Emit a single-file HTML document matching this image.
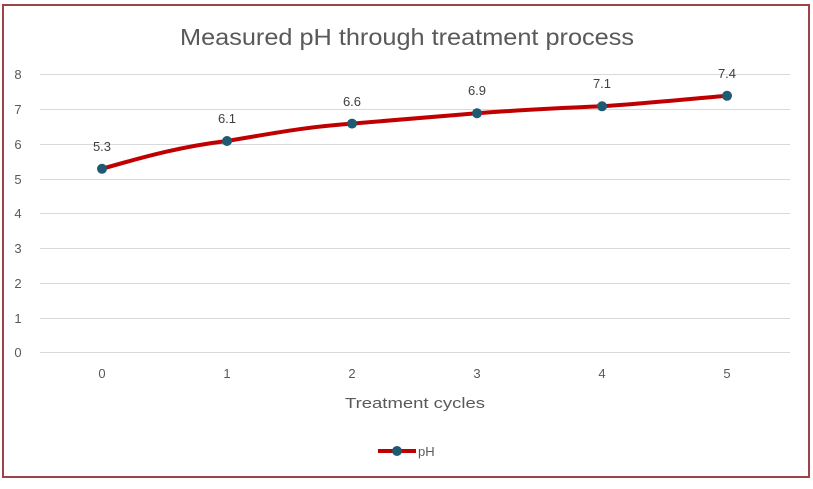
<!DOCTYPE html>
<html><head><style>
html,body{margin:0;padding:0;background:#fff;}
svg{display:block;font-family:"Liberation Sans",sans-serif;}
</style></head><body>
<svg width="813" height="489" viewBox="0 0 813 489">
<rect x="3" y="5" width="806" height="472" fill="#fff" stroke="#9e4448" stroke-width="2"/>
<text x="180" y="45" textLength="454" lengthAdjust="spacingAndGlyphs" font-size="23" fill="#595959">Measured pH through treatment process</text>
<g stroke="#d9d9d9" stroke-width="1">
<line x1="40" x2="790" y1="74.5" y2="74.5"/>
<line x1="40" x2="790" y1="109.5" y2="109.5"/>
<line x1="40" x2="790" y1="144.5" y2="144.5"/>
<line x1="40" x2="790" y1="179.5" y2="179.5"/>
<line x1="40" x2="790" y1="213.5" y2="213.5"/>
<line x1="40" x2="790" y1="248.5" y2="248.5"/>
<line x1="40" x2="790" y1="283.5" y2="283.5"/>
<line x1="40" x2="790" y1="318.5" y2="318.5"/>
<line x1="40" x2="790" y1="352.5" y2="352.5"/>
</g>
<g font-size="13" fill="#595959" text-anchor="middle">
<text x="18" y="79">8</text><text x="18" y="114">7</text><text x="18" y="149">6</text>
<text x="18" y="184">5</text><text x="18" y="218">4</text><text x="18" y="253">3</text>
<text x="18" y="288">2</text><text x="18" y="323">1</text><text x="18" y="357">0</text>
<text x="102" y="378">0</text><text x="227" y="378">1</text><text x="352" y="378">2</text>
<text x="477" y="378">3</text><text x="602" y="378">4</text><text x="727" y="378">5</text>
</g>
<text x="345" y="408" textLength="140" lengthAdjust="spacingAndGlyphs" font-size="15" fill="#595959">Treatment cycles</text>
<path d="M102,168.8 C150,155 185,146 227,141 C275,133 305,127 352,123.6 C400,120 440,116 477,113.2 C520,110 560,108 602,106.3 C650,103 690,99 727,95.8" fill="none" stroke="#c00000" stroke-width="4" stroke-linecap="round"/>
<g fill="#1f5a73">
<circle cx="102" cy="168.8" r="5"/><circle cx="227" cy="141" r="5"/><circle cx="352" cy="123.6" r="5"/>
<circle cx="477" cy="113.2" r="5"/><circle cx="602" cy="106.3" r="5"/><circle cx="727" cy="95.8" r="5"/>
</g>
<g font-size="13" fill="#404040" text-anchor="middle">
<text x="102" y="151">5.3</text><text x="227" y="123">6.1</text><text x="352" y="106">6.6</text>
<text x="477" y="95">6.9</text><text x="602" y="88">7.1</text><text x="727" y="78">7.4</text>
</g>
<line x1="378" x2="416" y1="451" y2="451" stroke="#c00000" stroke-width="4"/>
<circle cx="397" cy="451" r="5" fill="#1f5a73"/>
<text x="418" y="456" font-size="13" fill="#595959">pH</text>
</svg>
</body></html>
